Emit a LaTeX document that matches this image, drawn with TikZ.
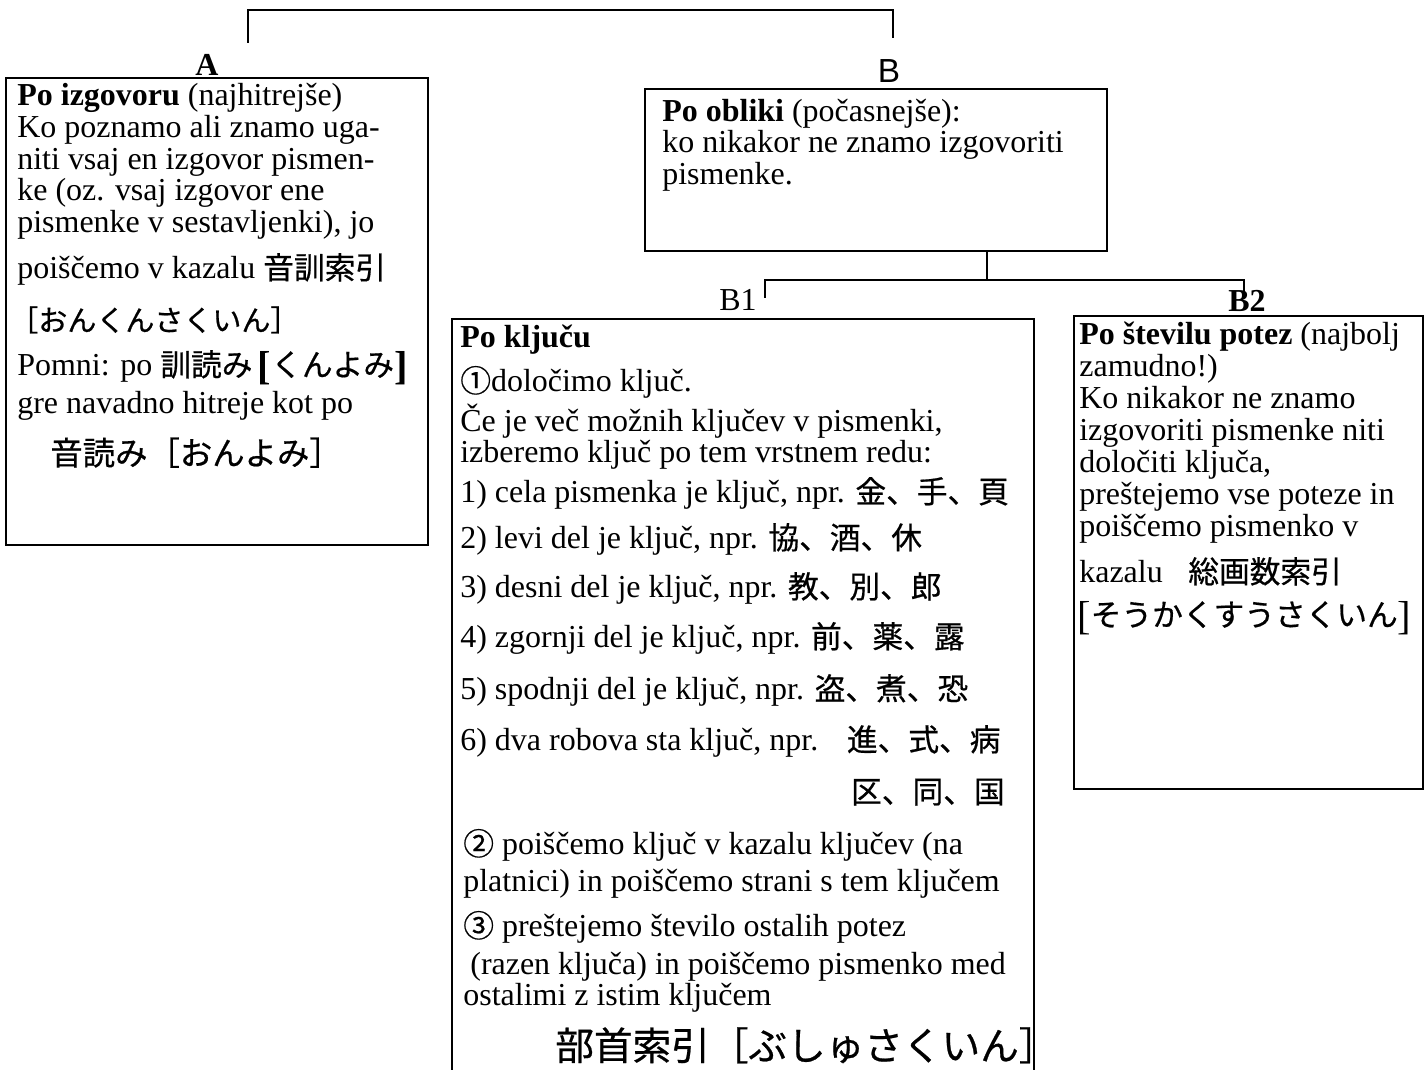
\documentclass[tikz,border=0pt]{standalone}
\usepackage{fontspec}
\setmainfont{Liberation Serif}
\setsansfont{Liberation Sans}
\newfontfamily\jpfont[Scale=0.96,FakeBold=0.6]{Noto Sans CJK JP}
\newcommand{\jp}[1]{{\jpfont #1}}
\newcommand{\tallbr}[1]{\raisebox{-2pt}{\fontsize{23}{23}\selectfont #1}}

\begin{document}
\begin{tikzpicture}[x=0.02cm,y=-0.02cm,
  box/.style={draw,line width=1.3pt,inner sep=0pt,outer sep=0pt,anchor=north west},
  txt/.style={anchor=base west,inner sep=0pt,font=\fontsize{18.2}{20}\selectfont},
  lbl/.style={anchor=base,inner sep=0pt,font=\fontsize{18.2}{20}\selectfont},
  link/.style={line width=1.1pt}]
\useasboundingbox (0,0) rectangle (1428,1070);
% boxes
\node[box,minimum width=8.44cm,minimum height=9.34cm] (boxA) at (6,78) {};
\node[box,minimum width=9.24cm,minimum height=3.24cm] (boxB) at (645,89) {};
\node[box,minimum width=11.64cm,minimum height=15.6cm] (boxB1) at (452,319) {};
\node[box,minimum width=6.98cm,minimum height=9.46cm] (boxB2) at (1074,316) {};
% labels
\node[lbl] (labA) at (207,76) {\textbf{A}};
\node[lbl,font=\fontsize{19}{20}\sffamily] (labB) at (889,83) {B};
\node[lbl] (labB1) at (738,311) {B1};
\node[lbl] (labB2) at (1247,312) {\textbf{B2}};
% connectors
\coordinate (upA) at (248,43);
\coordinate (upB) at (893,38);
\coordinate (jB) at (987,280);
\coordinate (topB1) at (765,298);
\coordinate (topB2) at (1244,296);
\draw[link] (upA) -- ++(0,-33) -| (upB);
\draw[link] (boxB.south -| jB) -- (jB);
\draw[link] (topB1) |- (jB) -| (topB2);
% A
\node[txt] (a1) at (17,106) {\textbf{Po izgovoru} (najhitrejše)};
\node[txt] (a2) at (17,138) {Ko poznamo ali znamo uga-};
\node[txt] (a3) at (17,170) {niti vsaj en izgovor pismen-};
\node[txt] (a4) at (17,201) {ke (oz. vsaj izgovor ene};
\node[txt] (a5) at (17,233) {pismenke v sestavljenki), jo};
\node[txt] (a6) at (17,279) {poiščemo v kazalu \jp{音訓索引}};
\node[txt] (a7) at (9,331) {\jpfont\fontsize{17.2}{18}\selectfont ［おんくんさくいん］};
\node[txt] (a8) at (17,376) {Pomni: po \jp{訓読み}\,\tallbr{\textbf{[}}\jp{くんよみ}\tallbr{\textbf{]}}};
\node[txt] (a9) at (17,414) {gre navadno hitreje kot po};
\node[txt] (a10) at (50,465) {\jpfont\fontsize{19.2}{20}\selectfont 音読み［おんよみ］};
% B
\node[txt] (b1) at (662,122) {\textbf{Po obliki} (počasnejše):};
\node[txt] (b2) at (662,153) {ko nikakor ne znamo izgovoriti};
\node[txt] (b3) at (662,185) {pismenke.};
% B1
\node[txt] (c1) at (460,348) {\textbf{Po ključu}};
\node[txt] (c2) at (460,392) {\jp{①}določimo ključ.};
\node[txt] (c3) at (460,432) {Če je več možnih ključev v pismenki,};
\node[txt] (c4) at (460,463) {izberemo ključ po tem vrstnem redu:};
\node[txt] (c5) at (460,503) {1) cela pismenka je ključ, npr. \jp{金、手、頁}};
\node[txt] (c6) at (460,549) {2) levi del je ključ, npr. \jp{協、酒、休}};
\node[txt] (c7) at (460,598) {3) desni del je ključ, npr. \jp{教、別、郎}};
\node[txt] (c8) at (460,648) {4) zgornji del je ključ, npr. \jp{前、薬、露}};
\node[txt] (c9) at (460,700) {5) spodnji del je ključ, npr. \jp{盗、煮、恐}};
\node[txt] (c10) at (460,751) {6) dva robova sta ključ, npr.\hspace{0.9em}\jp{進、式、病}};
\node[txt,anchor=base east] (c11) at (1005,803) {\jp{区、同、国}};
\node[txt] (c12) at (463,855) {\jp{②} poiščemo ključ v kazalu ključev (na};
\node[txt] (c13) at (463,892) {platnici) in poiščemo strani s tem ključem};
\node[txt] (c14) at (463,937) {\jp{③} preštejemo število ostalih potez};
\node[txt] (c15) at (470,975) {(razen ključa) in poiščemo pismenko med};
\node[txt] (c16) at (463,1006) {ostalimi z istim ključem};
\node[txt] (c17) at (555,1060) {\jpfont\fontsize{22.9}{24}\selectfont 部首索引［ぶしゅさくいん］};
% B2
\node[txt] (d1) at (1079,345) {\textbf{Po številu potez} (najbolj};
\node[txt] (d2) at (1079,377) {zamudno!)};
\node[txt] (d3) at (1079,409) {Ko nikakor ne znamo};
\node[txt] (d4) at (1079,441) {izgovoriti pismenke niti};
\node[txt] (d5) at (1079,473) {določiti ključa,};
\node[txt] (d6) at (1079,505) {preštejemo vse poteze in};
\node[txt] (d7) at (1079,537) {poiščemo pismenko v};
\node[txt] (d8) at (1079,583) {kazalu\hspace{0.8em}\jp{総画数索引}};
\node[txt] (d9) at (1077,626) {\tallbr{[}\jp{そうかくすうさくいん}\tallbr{]}};
\end{tikzpicture}
\end{document}
